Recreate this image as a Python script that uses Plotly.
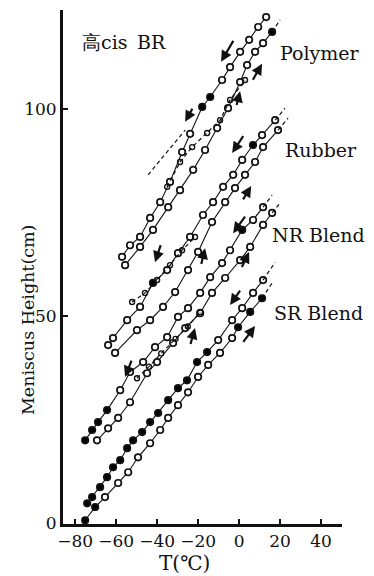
import plotly.graph_objects as go

# Meniscus height (cm) against temperature (deg C) for high-cis BR samples.
# Each sample has a cooling run and a heating run.

# --- Polymer ---
P1_T = [-57.1, -53.2, -48.3, -43.4, -38.5, -33.7, -27.8, -23.9, -18.0, -14.1, -8.3, -4.4, 0.5, 4.9, 9.3, 13.2]
P1_H = [64.3, 67.1, 69.1, 73.7, 77.5, 82.4, 89.6, 94.0, 100.5, 102.9, 107.0, 110.1, 113.8, 116.7, 119.8, 122.2]
P1_FILLED = [8, 9]
P2_T = [-55.6, -48.3, -42.0, -34.6, -28.8, -22.4, -16.6, -10.7, -5.4, 0.5, 3.9, 7.8, 11.7, 16.1]
P2_H = [62.3, 66.7, 70.8, 76.3, 80.4, 85.3, 90.1, 95.4, 100.2, 106.5, 110.6, 113.8, 115.9, 118.6]
P2_FILLED = [13]
P2_EXT_T = [16.1, 20.0]
P2_EXT_H = [118.6, 121.5]
P3_T = [-35.1, -28.8, -22.9, -15.6, -9.3, -4.4, 2.9]
P3_H = [81.2, 87.2, 90.8, 94.2, 97.3, 102.2, 107.0]
P4_T = [-44.4, -26.3]
P4_H = [84.1, 94.9]

# --- Rubber ---
R1_T = [-63.9, -61.5, -54.6, -48.3, -42.0, -35.1, -29.8, -23.9, -17.6, -12.7, -7.8, -2.9, 1.5, 6.8, 11.2, 17.6]
R1_H = [43.0, 44.7, 49.0, 52.2, 58.0, 61.1, 65.2, 69.1, 74.4, 77.5, 81.2, 84.1, 87.7, 91.3, 93.7, 97.3]
R1_FILLED = [4, 13]
R1_EXT_T = [17.6, 22.4]
R1_EXT_H = [97.3, 100.2]
R2_T = [-60.5, -49.8, -43.4, -37.1, -31.2, -24.9, -20.0, -13.2, -6.8, -2.0, 2.9, 7.8, 11.7, 19.0]
R2_H = [41.1, 46.6, 49.0, 52.2, 55.8, 61.1, 65.5, 72.7, 77.5, 80.9, 84.1, 87.2, 90.8, 94.9]
R2_FILLED = []
R2_EXT_T = [19.0, 23.9]
R2_EXT_H = [94.9, 97.8]
R3_T = [-52.2, -45.9, -40.0, -33.7, -27.8, -21.5]
R3_H = [53.4, 55.6, 58.7, 62.3, 65.9, 69.1]

# --- NR Blend ---
NR1_T = [-75.1, -71.7, -68.8, -64.4, -58.0, -53.2, -46.8, -41.0, -35.1, -29.8, -24.9, -19.0, -14.1, -8.3, -4.4, 1.5, 6.8, 11.7]
NR1_H = [20.0, 22.5, 24.4, 27.3, 32.1, 36.5, 38.9, 42.5, 44.9, 49.8, 51.9, 55.6, 59.4, 62.8, 65.9, 70.8, 73.2, 76.3]
NR1_FILLED = [0, 1, 2, 3, 15]
NR1_EXT_T = [11.7, 16.1]
NR1_EXT_H = [76.3, 79.2]
NR2_T = [-69.3, -63.9, -59.0, -53.2, -44.9, -40.0, -32.2, -26.3, -19.0, -13.2, -6.8, 0.5, 5.4, 11.7, 16.1]
NR2_H = [20.0, 22.9, 25.4, 29.2, 36.2, 38.9, 43.5, 47.1, 50.7, 55.6, 59.2, 63.5, 66.7, 72.0, 74.9]
NR2_FILLED = []
NR2_EXT_T = [16.1, 20.0]
NR2_EXT_H = [74.9, 77.3]
NR3_T = [-49.8, -44.0, -38.0, -31.0, -25.0, -19.0]
NR3_H = [35.0, 37.8, 41.0, 44.5, 47.5, 51.0]

# --- SR Blend ---
SR1_T = [-74.1, -71.7, -67.8, -64.4, -61.5, -58.0, -54.6, -51.7, -47.3, -43.4, -39.5, -34.6, -29.8,
         -25.4, -20.5, -15.6, -10.2, -3.4, 1.5, 6.8, 11.7]
SR1_H = [4.8, 6.3, 8.7, 11.1, 13.5, 15.2, 18.1, 20.0, 22.0, 24.4, 26.6, 29.7, 32.6,
         34.5, 38.9, 41.3, 44.2, 49.0, 51.9, 55.6, 58.7]
SR1_FILLED = list(range(0, 16))
SR1_EXT_T = [11.7, 17.6]
SR1_EXT_H = [58.7, 63.0]
SR2_T = [-75.1, -70.2, -65.4, -59.0, -54.1, -49.3, -43.4, -38.5, -34.6, -29.8, -24.9, -20.0, -15.1,
         -9.3, -3.4, -0.5, 5.4, 11.2]
SR2_H = [0.7, 3.9, 6.3, 9.7, 12.3, 15.9, 19.3, 22.5, 25.4, 28.5, 31.6, 35.3, 38.2,
         41.1, 44.7, 47.3, 51.0, 54.3]
SR2_FILLED = [0, 1, 15, 16, 17]
SR2_EXT_T = [11.2, 16.1]
SR2_EXT_H = [54.3, 58.0]

X_TICKS = [-80, -60, -40, -20, 0, 20, 40]
X_TICK_TEXT = ["\u221280", "\u221260", "\u221240", "\u221220", "0", "20", "40"]
Y_TICKS = [0, 50, 100]
Y_TICK_TEXT = ["0", "50", "100"]

SERIF = "DejaVu Serif"
INK = "#111111"

fig = go.Figure()


def circles(t, h, filled):
    colors = ["black" if i in filled else "white" for i in range(len(t))]
    fig.add_trace(go.Scatter(
        x=t, y=h, mode="lines+markers",
        line=dict(color=INK, width=1.1),
        marker=dict(symbol="circle", size=6.5, color=colors,
                    line=dict(color=INK, width=1.7)),
        hoverinfo="skip", showlegend=False))


def dashed(t, h, with_marks=False):
    fig.add_trace(go.Scatter(
        x=t, y=h, mode="lines+markers" if with_marks else "lines",
        line=dict(color=INK, width=1.2, dash="4px,3px"),
        marker=dict(symbol="circle-open", size=5, color=INK, line=dict(width=1.4)),
        hoverinfo="skip", showlegend=False))


circles(P1_T, P1_H, P1_FILLED)
circles(P2_T, P2_H, P2_FILLED)
dashed(P2_EXT_T, P2_EXT_H)
dashed(P3_T, P3_H, True)
dashed(P4_T, P4_H)

circles(R1_T, R1_H, R1_FILLED)
circles(R2_T, R2_H, R2_FILLED)
dashed(R1_EXT_T, R1_EXT_H)
dashed(R2_EXT_T, R2_EXT_H)
dashed(R3_T, R3_H, True)

circles(NR1_T, NR1_H, NR1_FILLED)
circles(NR2_T, NR2_H, NR2_FILLED)
dashed(NR1_EXT_T, NR1_EXT_H)
dashed(NR2_EXT_T, NR2_EXT_H)
dashed(NR3_T, NR3_H, True)

circles(SR1_T, SR1_H, SR1_FILLED)
circles(SR2_T, SR2_H, SR2_FILLED)
dashed(SR1_EXT_T, SR1_EXT_H)
dashed(SR2_EXT_T, SR2_EXT_H)

# cooling (down-left) and heating (up-right) direction arrows: tail -> head
arrows = [
    (-2.4, 116.8, -8.8, 111.4), (-22.4, 100.4, -26.3, 96.9),
    (6.3, 106.7, 11.2, 110.9), (-1.4, 100.6, 0.5, 104.3),
    (2.5, 93.8, -3.4, 89.4), (1.5, 77.8, 5.9, 81.4),
    (-38.0, 67.5, -41.0, 63.0), (-18.6, 62.2, -16.6, 66.4),
    (3.4, 74.4, -2.9, 70.0), (1.0, 61.5, 4.9, 65.5),
    (-52.2, 39.6, -55.6, 35.3), (-23.9, 42.9, -21.5, 47.1),
    (1.0, 56.5, -4.4, 52.7), (1.5, 43.4, 7.8, 47.6),
]
annotations = []
for tx, ty, hx, hy in arrows:
    annotations.append(dict(
        x=hx, y=hy, ax=tx, ay=ty, xref="x", yref="y", axref="x", ayref="y",
        text="", showarrow=True, arrowhead=2, arrowsize=1.0, arrowwidth=2.2,
        arrowcolor=INK))

labels = [
    ("\u9ad8cis\u2002BR", -77.6, 116.2),
    ("Polymer", 19.0, 113.5),
    ("Rubber", 21.5, 90.1),
    ("NR Blend", 15.1, 69.6),
    ("SR Blend", 16.1, 50.7),
]
for text, lx, ly in labels:
    annotations.append(dict(x=lx, y=ly, xref="x", yref="y", text=text,
                            showarrow=False, xanchor="left", yanchor="middle",
                            font=dict(family=SERIF, size=19, color=INK)))

annotations.append(dict(x=-0.125, y=0.397, xref="paper", yref="paper",
                        xanchor="center", yanchor="middle",
                        text="Meniscus Height(cm)", textangle=-90, showarrow=False,
                        font=dict(family=SERIF, size=17.5, color=INK)))
annotations.append(dict(x=0.437, y=-0.076, xref="paper", yref="paper",
                        xanchor="center", yanchor="middle",
                        text="T(\u2103)", showarrow=False,
                        font=dict(family=SERIF, size=20, color=INK)))

fig.update_layout(
    width=374, height=576,
    margin=dict(l=63, r=32, t=10, b=52),
    paper_bgcolor="white", plot_bgcolor="white",
    font=dict(family=SERIF, color=INK),
    annotations=annotations,
    xaxis=dict(range=[-85.9, 50.2], showgrid=False, zeroline=False,
               showline=True, linewidth=3, linecolor=INK,
               tickvals=X_TICKS, ticktext=X_TICK_TEXT,
               ticks="inside", ticklen=5, tickwidth=2, tickcolor=INK,
               tickfont=dict(family=SERIF, size=17, color=INK)),
    yaxis=dict(range=[-0.2, 123.9], showgrid=False, zeroline=False,
               showline=True, linewidth=3, linecolor=INK,
               tickvals=Y_TICKS, ticktext=Y_TICK_TEXT,
               ticks="inside", ticklen=5, tickwidth=2, tickcolor=INK,
               tickfont=dict(family=SERIF, size=17, color=INK)),
)

fig.write_html("out.html")
